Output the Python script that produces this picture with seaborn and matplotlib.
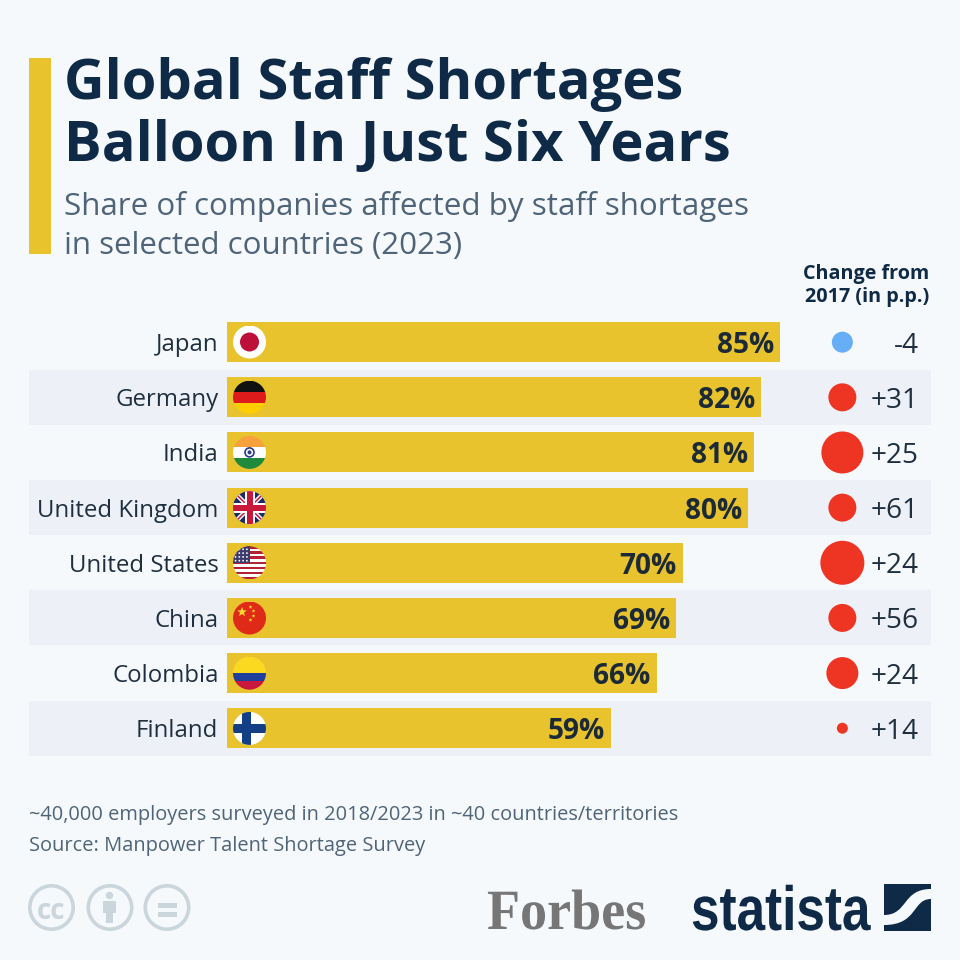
import matplotlib
matplotlib.use('Agg')
import matplotlib.pyplot as plt
import matplotlib.patches as mpatches
import matplotlib.patheffects as pe
from matplotlib.path import Path
from matplotlib.transforms import Affine2D
import numpy as np
import seaborn as sns
import pandas as pd

countries = ['Japan', 'Germany', 'India', 'United Kingdom', 'United States', 'China', 'Colombia', 'Finland']
share = [85, 82, 81, 80, 70, 69, 66, 59]
change = ['-4', '+31', '+25', '+61', '+24', '+56', '+24', '+14']
# dot diameter in px and colour group
dot_diameter = [21, 28, 42, 28, 44, 28, 32, 11]
dot_group = ['down', 'up', 'up', 'up', 'up', 'up', 'up', 'up']

BG = '#F5F9FC'
BAND = '#EDF1F7'
YELLOW = '#E8C32E'
NAVY = '#0F2A46'
GREY = '#4F6478'
TEXT = '#1F2F40'
PX = 0.72  # px to pt at dpi 100

sns.set_theme(style='white')
plt.rcParams['font.family'] = ['Open Sans', 'DejaVu Sans']


class Squeeze(pe.AbstractPathEffect):
    # no condensed font here, so narrow the glyphs while drawing
    def __init__(self, x0, sx):
        super().__init__()
        self.x0, self.sx = x0, sx

    def draw_path(self, renderer, gc, tpath, affine, rgbFace=None):
        squeezed = affine + Affine2D().translate(-self.x0, 0).scale(self.sx, 1).translate(self.x0, 0)
        renderer.draw_path(gc, tpath, squeezed, rgbFace)


df = pd.DataFrame({'country': countries, 'share': share, 'dot': dot_diameter, 'group': dot_group})
df['dot_x'] = 94.5

fig = plt.figure(figsize=(9.6, 9.6), dpi=100, facecolor=BG)

# background layer in pixel coordinates
bg = fig.add_axes([0, 0, 1, 1], zorder=0)
bg.set_xlim(0, 960)
bg.set_ylim(960, 0)
bg.axis('off')
bg.add_patch(mpatches.Rectangle((29, 58), 22, 196, color=YELLOW, lw=0))
for y_top in [370, 480, 590, 701]:
    bg.add_patch(mpatches.Rectangle((29, y_top), 902, 55, color=BAND, lw=0))

bg.text(64.5, 99, 'Global Staff Shortages', fontsize=40.4, fontweight='bold', color=NAVY)
bg.text(64.5, 161, 'Balloon In Just Six Years', fontsize=40.4, fontweight='bold', color=NAVY)
bg.text(64, 215, 'Share of companies affected by staff shortages', fontsize=22.6, color=GREY)
bg.text(64, 254, 'in selected countries (2023)', fontsize=22.5, color=GREY)
bg.text(866, 279, 'Change from', fontsize=14.2, fontweight='bold', color=NAVY, ha='center')
bg.text(867, 302, '2017 (in p.p.)', fontsize=14.3, fontweight='bold', color=NAVY, ha='center')
bg.text(29, 820, '~40,000 employers surveyed in 2018/2023 in ~40 countries/territories', fontsize=14.37, color=GREY)
bg.text(29, 851, 'Source: Manpower Talent Shortage Survey', fontsize=14.37, color=GREY)

# main chart, x=0 sits at the left edge of the bars
ax = fig.add_axes([226.5 / 960, 1 - 755.8 / 960, 704.5 / 960, 441.2 / 960], zorder=1)
ax.patch.set_alpha(0)
sns.barplot(data=df, y='country', x='share', color=YELLOW, saturation=1, width=0.725, linewidth=0, ax=ax)
sns.scatterplot(data=df, x='dot_x', y='country', hue='group', palette={'down': '#66AEF5', 'up': '#EE3524'},
                size='dot', sizes={d: (d * PX) ** 2 for d in dot_diameter}, linewidth=0, legend=False, ax=ax, clip_on=False)
ax.set_xlim(0, 108.1)
ax.set_ylim(7.5, -0.5)
ax.set_xlabel('')
ax.set_ylabel('')
ax.set_xticks([])
ax.tick_params(axis='y', length=0, pad=8 * PX, labelsize=17.3, labelcolor=TEXT)
sns.despine(ax=ax, left=True, bottom=True)

for i, v in enumerate(share):
    ax.annotate(f'{v}%', (v, i), xytext=(-6 * PX, 0), textcoords='offset points', ha='right',
                va='center_baseline', fontsize=20.2, fontweight='bold', color='#1B2A36')
    ax.annotate(change[i], (108.1, i), xytext=(-12 * PX, 0), textcoords='offset points', ha='right',
                va='center_baseline', fontsize=20.2, color=TEXT, annotation_clip=False)

# flags and logos on top, again in pixel coordinates
top = fig.add_axes([0, 0, 1, 1], zorder=2)
top.set_xlim(0, 960)
top.set_ylim(960, 0)
top.axis('off')
R = 16.5


def flag(row, draw):
    cx, cy = 249.5, 342 + row * 55.2
    clip = mpatches.Circle((cx, cy), R, transform=top.transData)
    for a in draw(cx, cy):
        top.add_patch(a)
        a.set_clip_path(clip)


def stripes(colors):
    def draw(cx, cy):
        n = len(colors)
        return [mpatches.Rectangle((cx - R, cy - R + k * 2 * R / n), 2 * R, 2 * R / n, color=c, lw=0)
                for k, c in enumerate(colors)]
    return draw


def rect(x, y, w, h, c):
    return mpatches.Rectangle((x, y), w, h, color=c, lw=0)


def star(x, y, r, c):
    ang = -np.pi / 2 + np.arange(10) * np.pi / 5
    rad = np.where(np.arange(10) % 2 == 0, r, r * 0.42)
    return mpatches.Polygon(np.column_stack([x + rad * np.cos(ang), y + rad * np.sin(ang)]), color=c, lw=0)


def japan(cx, cy):
    return [rect(cx - R, cy - R, 2 * R, 2 * R, '#FFFFFF'), mpatches.Circle((cx, cy), 9.5, color='#BC0F3A', lw=0)]


def india(cx, cy):
    return stripes(['#F7A13C', '#FFFFFF', '#1F8A3B'])(cx, cy) + [
        mpatches.Circle((cx, cy), 4.5, fc='#FFFFFF', ec='#2A3A8C', lw=1.2),
        mpatches.Circle((cx, cy), 2, color='#2A3A8C', lw=0)]


def uk(cx, cy):
    parts = [rect(cx - R, cy - R, 2 * R, 2 * R, '#1B2A6B')]
    for a, b in [((-R, -R), (R, R)), ((-R, R), (R, -R))]:
        pts = [(cx + a[0], cy + a[1]), (cx + b[0], cy + b[1])]
        parts.append(mpatches.Polygon(pts, closed=False, fill=False, ec='#FFFFFF', lw=3.2))
        parts.append(mpatches.Polygon(pts, closed=False, fill=False, ec='#C8193C', lw=1.1))
    parts += [rect(cx - 5, cy - R, 10, 2 * R, '#FFFFFF'), rect(cx - R, cy - 5, 2 * R, 10, '#FFFFFF'),
              rect(cx - 3, cy - R, 6, 2 * R, '#C8193C'), rect(cx - R, cy - 3, 2 * R, 6, '#C8193C')]
    return parts


def usa(cx, cy):
    cols = ['#B22234' if k % 2 == 0 else '#FFFFFF' for k in range(13)]
    parts = stripes(cols)(cx, cy) + [rect(cx - R, cy - R, R, 17, '#3C3B6E')]
    for yy in range(4):
        for xx in range(4):
            parts.append(mpatches.Circle((cx - R + 2.5 + xx * 3.8, cy - R + 3 + yy * 3.8), 0.9, color='#FFFFFF', lw=0))
    return parts


def china(cx, cy):
    parts = [rect(cx - R, cy - R, 2 * R, 2 * R, '#E02A18'), star(cx - 7.5, cy - 6, 5, '#FBD92B')]
    for dx, dy in [(1, -11), (4, -7), (4, -2), (1, 2)]:
        parts.append(star(cx + dx, cy + dy, 2, '#FBD92B'))
    return parts


def colombia(cx, cy):
    return [rect(cx - R, cy - R, 2 * R, R, '#FBD920'), rect(cx - R, cy, 2 * R, R / 2, '#1F3F9A'),
            rect(cx - R, cy + R / 2, 2 * R, R / 2, '#C8193C')]


def finland(cx, cy):
    return [rect(cx - R, cy - R, 2 * R, 2 * R, '#FFFFFF'), rect(cx - 8, cy - R, 9, 2 * R, '#123F86'),
            rect(cx - R, cy - 4.5, 2 * R, 9, '#123F86')]


for row, d in enumerate([japan, stripes(['#111111', '#DD1B1B', '#FFCE00']), india, uk, usa, china, colombia, finland]):
    flag(row, d)

# creative commons icons
ICON = '#CAD5DC'
for cx in [51.5, 110, 167]:
    top.add_patch(mpatches.Circle((cx, 907.5), 21.7, fc='none', ec=ICON, lw=2.6))
top.text(51.5, 908, 'cc', fontsize=20, fontweight='bold', color=ICON, ha='center', va='center_baseline')
top.add_patch(mpatches.Circle((109.5, 895.5), 3.7, color=ICON, lw=0))
top.add_patch(mpatches.Rectangle((103, 900.5), 13, 12, color=ICON, lw=0))
top.add_patch(mpatches.Rectangle((106, 912), 7, 10.5, color=ICON, lw=0))
top.add_patch(mpatches.Rectangle((158, 902.5), 19, 5, color=ICON, lw=0))
top.add_patch(mpatches.Rectangle((158, 912), 19, 5, color=ICON, lw=0))

# logos
top.text(487, 929, 'Forbes', fontsize=41, fontweight='bold', color='#767676', family='Liberation Serif',
         path_effects=[Squeeze(487, 0.95)])
top.text(691, 930, 'statista', fontsize=45, fontweight='bold', color=NAVY, family='Liberation Sans',
         path_effects=[Squeeze(691, 0.82)])
top.add_patch(mpatches.Rectangle((884, 884), 47, 47, color=NAVY, lw=0))
swoosh = Path([(884, 915), (908, 915), (902, 889), (931, 889), (931, 899), (912, 899), (918, 925), (884, 925), (884, 915)],
              [Path.MOVETO, Path.CURVE4, Path.CURVE4, Path.CURVE4, Path.LINETO, Path.CURVE4, Path.CURVE4, Path.CURVE4, Path.CLOSEPOLY])
top.add_patch(mpatches.PathPatch(swoosh, fc=BG, lw=0))

fig.savefig('out.png', dpi=100, facecolor=BG)
